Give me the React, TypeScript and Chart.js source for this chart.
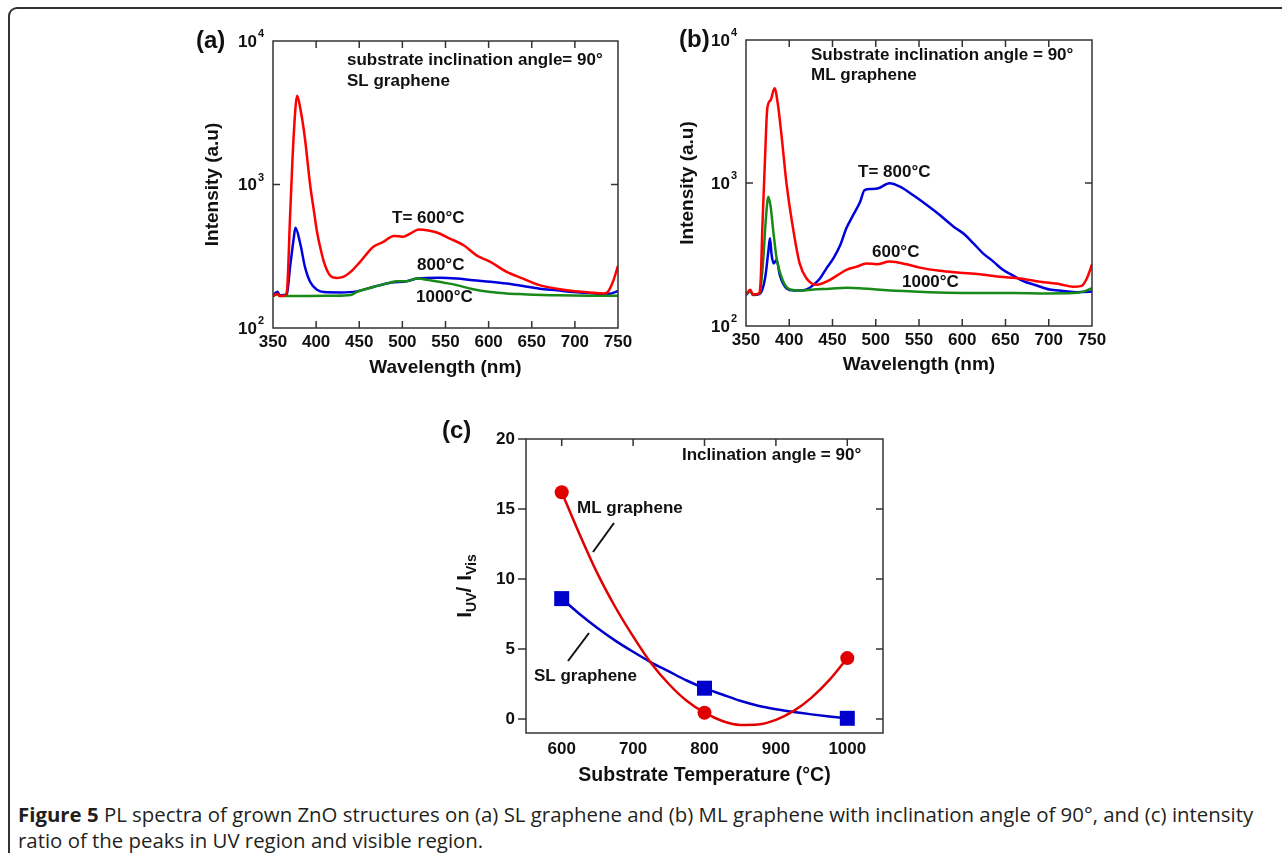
import React, { useEffect, useRef } from "react";
import { Chart, registerables } from "chart.js";

Chart.register(...registerables);

const FONT = '"Liberation Sans", Arial, Helvetica, sans-serif';
const INK = "#111111";
const FRAME = "#333333";

// ---------- Panels (a) and (b): PL spectra ----------
const wavelengthTicks = [350, 400, 450, 500, 550, 600, 650, 700, 750];
const intensityTicks = [100, 1000, 10000];
const intensityExponents = ["2", "3", "4"];

// (a) SL graphene, T = 600 °C (red)
const aRedWl = [350, 355, 358, 363, 366, 370, 374, 378, 382, 387, 393, 398, 401, 405, 409, 416, 424, 432, 440, 451, 466, 478, 490, 496, 501, 509, 519, 530, 540, 555, 571, 586, 602, 621, 640, 659, 679, 698, 717, 733, 738, 744, 750];
const aRedI = [167, 173, 167, 168, 178, 644, 2200, 4150, 3300, 2100, 1000, 620, 468, 360, 289, 233, 223, 228, 246, 289, 367, 398, 438, 436, 432, 455, 485, 478, 463, 420, 377, 321, 289, 246, 221, 199, 188, 181, 177, 174, 178, 209, 271];
// (a) 800 °C (blue)
const aBlueWl = [350, 355, 358, 364, 366, 370, 374, 376, 382, 387, 393, 401, 409, 428, 447, 466, 486, 505, 517, 544, 563, 582, 602, 621, 640, 659, 679, 698, 717, 733, 740, 750];
const aBlueI = [169, 179, 169, 170, 172, 273, 420, 500, 377, 267, 210, 185, 178, 177, 180, 193, 207, 212, 221, 224, 221, 215, 210, 204, 196, 188, 183, 178, 175, 172, 173, 181];
// (a) 1000 °C (green)
const aGreenWl = [350, 355, 358, 380, 420, 440, 447, 466, 486, 493, 505, 517, 532, 548, 563, 582, 602, 621, 640, 679, 717, 750];
const aGreenI = [167, 172, 167, 167, 168, 170, 178, 193, 207, 212, 212, 221, 215, 207, 199, 186, 178, 174, 172, 169, 168, 168];

// (b) ML graphene, 600 °C (red)
const bRedWl = [350, 355, 358, 365, 367, 369, 372, 374.6, 378.5, 383, 387, 391, 397, 405, 412, 420, 432, 443, 455, 466, 478, 489, 501, 516, 536, 551, 574, 597, 620, 643, 667, 690, 713, 728, 738, 744, 750];
const bRedI = [166, 179, 166, 168, 210, 508, 1490, 3320, 3800, 4600, 3500, 2170, 973, 457, 274, 215, 194, 204, 225, 247, 260, 274, 270, 282, 270, 256, 243, 236, 230, 221, 215, 204, 196, 188, 191, 215, 270];
// (b) T = 800 °C (blue)
const bBlueWl = [350, 355, 358, 366, 372, 375.8, 377.7, 379.6, 382, 385.4, 389, 397, 405, 412, 420, 428, 435.5, 443, 451, 459, 466, 474, 482, 487, 495, 503, 516, 528, 543, 559, 574, 590, 601, 613, 624, 636, 647, 659, 670, 686, 701, 717, 732, 740, 750];
const bBlueI = [165, 175, 165, 168, 215, 331, 410, 314, 274, 290, 228, 183, 177, 177, 180, 194, 215, 253, 297, 368, 482, 598, 740, 893, 908, 919, 996, 943, 824, 702, 598, 495, 445, 378, 322, 282, 247, 225, 207, 192, 180, 176, 172, 173, 174];
// (b) 1000 °C (green)
const bGreenWl = [350, 355, 358, 366, 370, 373, 375.8, 378.5, 381.6, 385.4, 389, 395, 401, 412, 428, 447, 466, 482, 505, 543, 582, 620, 659, 697, 728, 740, 750];
const bGreenI = [166, 176, 166, 170, 297, 566, 802, 683, 457, 297, 240, 194, 180, 177, 180, 182, 185, 184, 179, 174, 171, 170, 170, 169, 170, 174, 184];

// ---------- Panel (c): intensity ratio ----------
const temperatureTicks = [600, 700, 800, 900, 1000];
const ratioTicks = [0, 5, 10, 15, 20];
const sampleTemps = [600, 800, 1000];
const mlRatio = [16.2, 0.45, 4.35];
const slRatio = [8.6, 2.2, 0.05];
const fitTemps = [600, 625, 650, 675, 700, 725, 750, 775, 800, 825, 850, 875, 900, 925, 950, 975, 1000];
const mlFitRatio = [16.2, 13.2, 10.4, 8.0, 5.9, 4.0, 2.5, 1.3, 0.45, -0.14, -0.42, -0.39, -0.06, 0.58, 1.53, 2.79, 4.35];
const slFitRatio = [8.6, 7.5, 6.5, 5.6, 4.8, 4.05, 3.4, 2.75, 2.2, 1.75, 1.3, 0.95, 0.7, 0.5, 0.33, 0.18, 0.05];

const xy = (xs: number[], ys: number[]) => xs.map((x, i) => ({ x, y: ys[i] }));

function txt(ctx: CanvasRenderingContext2D, s: string, x: number, y: number, size: number, align: CanvasTextAlign = "left", weight = "bold") {
  ctx.font = `${weight} ${size}px ${FONT}`;
  ctx.fillStyle = INK;
  ctx.textAlign = align;
  ctx.textBaseline = "middle";
  ctx.fillText(s, x, y);
}

function seg(ctx: CanvasRenderingContext2D, x1: number, y1: number, x2: number, y2: number, w = 1.5, color = FRAME) {
  ctx.beginPath();
  ctx.strokeStyle = color;
  ctx.lineWidth = w;
  ctx.moveTo(x1, y1);
  ctx.lineTo(x2, y2);
  ctx.stroke();
}

type Note = { t: string; dx: number; dy: number; size?: number };

function spectraPlugin(id: string, panel: string, panelDx: number, notes: Note[], xLabelDy: number, xTitleDy: number, yTitleDx: number) {
  return {
    id,
    afterDraw(chart: any) {
      const { ctx, chartArea: a } = chart;
      const xs = chart.scales.x;
      const ys = chart.scales.y;
      ctx.save();
      ctx.strokeStyle = FRAME;
      ctx.lineWidth = 1.5;
      ctx.strokeRect(a.left, a.top, a.right - a.left, a.bottom - a.top);
      wavelengthTicks.forEach((v) => {
        const px = xs.getPixelForValue(v);
        if (px > a.left + 2 && px < a.right - 2) {
          seg(ctx, px, a.bottom, px, a.bottom - 7);
          seg(ctx, px, a.top, px, a.top + 7);
        }
        txt(ctx, String(v), px, a.bottom + xLabelDy, 17, "center");
      });
      intensityTicks.forEach((v, i) => {
        const py = ys.getPixelForValue(v);
        if (py > a.top + 2 && py < a.bottom - 2) {
          seg(ctx, a.left, py, a.left + 7, py);
          seg(ctx, a.right, py, a.right - 7, py);
        }
        txt(ctx, "10", a.left - 16, py + 1, 17, "right");
        txt(ctx, intensityExponents[i], a.left - 15, py - 7, 11, "left");
      });
      txt(ctx, "Wavelength (nm)", (a.left + a.right) / 2, a.bottom + xTitleDy, 19, "center");
      ctx.save();
      ctx.translate(a.left - yTitleDx, (a.top + a.bottom) / 2);
      ctx.rotate(-Math.PI / 2);
      txt(ctx, "Intensity (a.u)", 0, 0, 19, "center");
      ctx.restore();
      txt(ctx, panel, a.left + panelDx, a.top, 24, "left");
      notes.forEach((n) => txt(ctx, n.t, a.left + n.dx, a.top + n.dy, n.size || 17, "left"));
      ctx.restore();
    },
  };
}

const ratioPlugin = {
  id: "ratioFrame",
  afterDraw(chart: any) {
    const { ctx, chartArea: a } = chart;
    const xs = chart.scales.x;
    const ys = chart.scales.y;
    ctx.save();
    ctx.strokeStyle = FRAME;
    ctx.lineWidth = 1.5;
    ctx.strokeRect(a.left, a.top, a.right - a.left, a.bottom - a.top);
    temperatureTicks.forEach((v) => {
      const px = xs.getPixelForValue(v);
      seg(ctx, px, a.top, px, a.top + 7);
      txt(ctx, String(v), px, a.bottom + 16, 17, "center");
    });
    ratioTicks.forEach((v) => {
      const py = ys.getPixelForValue(v);
      seg(ctx, a.left - 8, py, a.left, py);
      if (py > a.top + 2) seg(ctx, a.right, py, a.right - 7, py);
      txt(ctx, String(v), a.left - 11, py, 17, "right");
    });
    txt(ctx, "Substrate Temperature (°C)", (a.left + a.right) / 2, a.bottom + 43, 19.5, "center");
    // y title: I_UV / I_Vis
    ctx.save();
    ctx.translate(a.left - 61, (a.top + a.bottom) / 2);
    ctx.rotate(-Math.PI / 2);
    const parts = [
      { t: "I", s: 21, dy: 0 },
      { t: "UV", s: 14, dy: 7 },
      { t: "/ I", s: 21, dy: 0 },
      { t: "Vis", s: 14, dy: 7 },
    ];
    let total = 0;
    parts.forEach((p) => {
      ctx.font = `bold ${p.s}px ${FONT}`;
      total += ctx.measureText(p.t).width;
    });
    let cx = -total / 2;
    parts.forEach((p) => {
      txt(ctx, p.t, cx, p.dy, p.s, "left");
      ctx.font = `bold ${p.s}px ${FONT}`;
      cx += ctx.measureText(p.t).width;
    });
    ctx.restore();
    txt(ctx, "(c)", a.left - 84, a.top - 8, 24, "left");
    txt(ctx, "Inclination angle = 90°", a.left + 156, a.top + 16.5, 17, "left");
    txt(ctx, "ML graphene", a.left + 51, a.top + 69, 17, "left");
    txt(ctx, "SL graphene", a.left + 8, a.top + 237, 17, "left");
    seg(ctx, a.left + 88, a.top + 84, a.left + 67, a.top + 113, 2, "#111");
    seg(ctx, a.left + 63, a.top + 194, a.left + 42, a.top + 222, 2, "#111");
    ctx.restore();
  },
};

const RED = "#ff0000";
const BLUE = "#0000dd";
const GREEN = "#178a17";

function lineSet(xs: number[], ys: number[], color: string) {
  return {
    data: xy(xs, ys),
    borderColor: color,
    borderWidth: 2.5,
    pointRadius: 0,
    fill: false,
    cubicInterpolationMode: "monotone" as const,
  };
}

function spectraConfig(red: any, green: any, blue: any, padding: any, plugin: any): any {
  return {
    type: "line",
    data: { datasets: [red, green, blue] },
    options: {
      animation: false,
      responsive: false,
      events: [],
      layout: { padding },
      plugins: { legend: { display: false }, tooltip: { enabled: false } },
      scales: {
        x: { type: "linear", min: 350, max: 750, display: false },
        y: { type: "logarithmic", min: 100, max: 10000, display: false },
      },
    },
    plugins: [plugin],
  };
}

const configA = () =>
  spectraConfig(
    lineSet(aRedWl, aRedI, RED),
    lineSet(aGreenWl, aGreenI, GREEN),
    lineSet(aBlueWl, aBlueI, BLUE),
    { left: 88, top: 21, right: 27, bottom: 72 },
    spectraPlugin(
      "frameA",
      "(a)",
      -77,
      [
        { t: "substrate inclination angle= 90°", dx: 74, dy: 19 },
        { t: "SL graphene", dx: 74, dy: 40 },
        { t: "T= 600°C", dx: 119, dy: 177 },
        { t: "800°C", dx: 144, dy: 224 },
        { t: "1000°C", dx: 143, dy: 256 },
      ],
      14,
      40,
      60
    )
  );

const configB = () =>
  spectraConfig(
    lineSet(bRedWl, bRedI, RED),
    lineSet(bGreenWl, bGreenI, GREEN),
    lineSet(bBlueWl, bBlueI, BLUE),
    { left: 81, top: 20, right: 23, bottom: 74 },
    spectraPlugin(
      "frameB",
      "(b)",
      -67,
      [
        { t: "Substrate inclination angle = 90°", dx: 65, dy: 15 },
        { t: "ML graphene", dx: 65, dy: 35 },
        { t: "T= 800°C", dx: 112, dy: 132 },
        { t: "600°C", dx: 126, dy: 212 },
        { t: "1000°C", dx: 156, dy: 242 },
      ],
      14,
      39,
      58
    )
  );

const C_RED = "#e00000";
const C_BLUE = "#0000cc";

const configC = (): any => ({
  type: "line",
  data: {
    datasets: [
      { data: xy(sampleTemps, mlRatio), showLine: false, pointStyle: "circle", pointRadius: 7, pointBackgroundColor: C_RED, pointBorderColor: C_RED, borderColor: C_RED, pointBorderWidth: 0, order: 0 },
      { data: xy(sampleTemps, slRatio), showLine: false, pointStyle: "rect", pointRadius: 10.6, pointBackgroundColor: C_BLUE, pointBorderColor: C_BLUE, borderColor: C_BLUE, pointBorderWidth: 0, order: 0 },
      { data: xy(fitTemps, mlFitRatio), borderColor: C_RED, borderWidth: 2.5, pointRadius: 0, fill: false, cubicInterpolationMode: "monotone", order: 1 },
      { data: xy(fitTemps, slFitRatio), borderColor: C_BLUE, borderWidth: 2.5, pointRadius: 0, fill: false, cubicInterpolationMode: "monotone", order: 2 },
    ],
  },
  options: {
    animation: false,
    responsive: false,
    events: [],
    layout: { padding: { left: 96, top: 24, right: 17, bottom: 62 } },
    plugins: { legend: { display: false }, tooltip: { enabled: false } },
    scales: {
      x: { type: "linear", min: 550, max: 1050, display: false },
      y: { type: "linear", min: -1, max: 20, display: false },
    },
  },
  plugins: [ratioPlugin],
});

function ChartCanvas({ make, left, top, width, height }: { make: () => any; left: number; top: number; width: number; height: number }) {
  const ref = useRef<HTMLCanvasElement>(null);
  useEffect(() => {
    const chart = new Chart(ref.current as HTMLCanvasElement, make());
    return () => chart.destroy();
  }, []);
  return <canvas ref={ref} width={width} height={height} style={{ position: "absolute", left, top, width, height }} />;
}

export default function App() {
  return (
    <div style={{ position: "fixed", left: 0, top: 0, width: 1282, height: 853, background: "#fff", overflow: "hidden" }}>
      <div
        style={{
          position: "absolute",
          left: 8,
          top: 7,
          width: 1300,
          height: 900,
          border: "2px solid #333",
          borderRadius: 9,
          boxSizing: "border-box",
        }}
      />
      <ChartCanvas make={configA} left={185} top={20} width={460} height={380} />
      <ChartCanvas make={configB} left={665} top={20} width={450} height={380} />
      <ChartCanvas make={configC} left={430} top={415} width={470} height={380} />
      <div
        style={{
          position: "absolute",
          left: 18,
          top: 801,
          whiteSpace: "nowrap",
          fontFamily: '"Open Sans", "Noto Sans", sans-serif',
          fontSize: 20.4,
          lineHeight: "26px",
          color: "#231f20",
        }}
      >
        <b>Figure 5</b> PL spectra of grown ZnO structures on (a) SL graphene and (b) ML graphene with inclination angle of 90°, and (c) intensity
        <br />
        ratio of the peaks in UV region and visible region.
      </div>
    </div>
  );
}
